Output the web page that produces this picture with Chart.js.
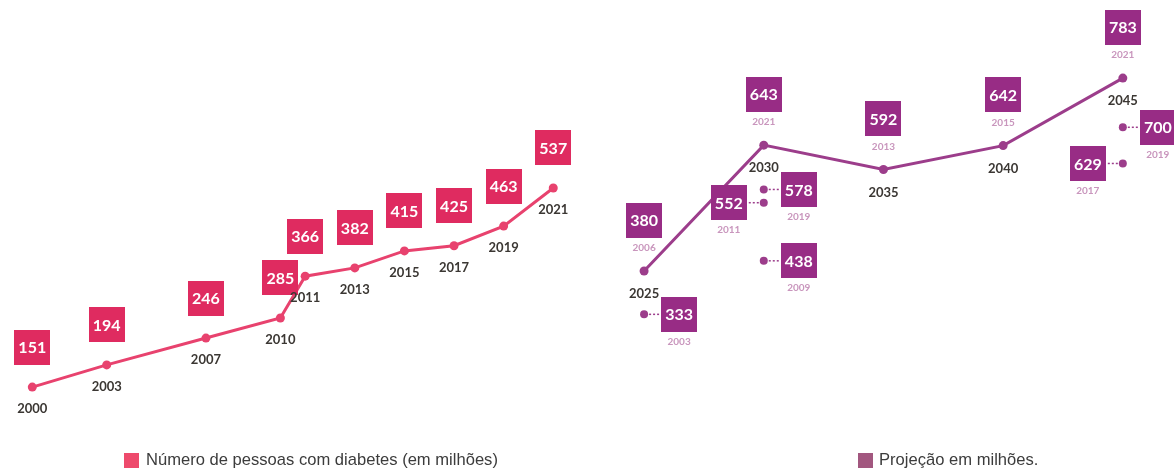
<!DOCTYPE html>
<html>
<head>
<meta charset="utf-8">
<script src="https://cdn.jsdelivr.net/npm/chart.js@4.4.1/dist/chart.umd.min.js"></script>
<style>
  body { margin: 0; background: #fff; }
  #wrap { position: relative; width: 1174px; height: 472px; overflow: hidden; }
  #chart { position: absolute; left: 0; top: 0; }
  .key { position: absolute; top: 453px; width: 15px; height: 15px; }
  .keyText {
    position: absolute; top: 450px; white-space: nowrap;
    font-family: "Liberation Sans", Arial, sans-serif; font-size: 17px; color: #3c3c3c;
    transform: scaleX(0.975); transform-origin: left top;
  }
</style>
</head>
<body>
<div id="wrap">
  <canvas id="chart" width="1174" height="472"></canvas>
  <div class="key" style="left:124px;background:#ee4a6c"></div>
  <div class="keyText" style="left:146px">Número de pessoas com diabetes (em milhões)</div>
  <div class="key" style="left:858px;background:#a2577f"></div>
  <div class="keyText" style="left:879px">Projeção em milhões.</div>
</div>
<script>
// people with diabetes, millions
const years = [2000, 2003, 2007, 2010, 2011, 2013, 2015, 2017, 2019, 2021];
const diabetes = [151, 194, 246, 285, 366, 382, 415, 425, 463, 537];

// projections (latest edition for each target year)
const projYears = [2025, 2030, 2035, 2040, 2045];
const projValues = [380, 643, 592, 642, 783];
const projEditions = [2006, 2021, 2013, 2015, 2021];

// projections from other editions
const pastYears = [2025, 2030, 2030, 2030, 2045, 2045];
const pastValues = [333, 578, 552, 438, 700, 629];
const pastEditions = [2003, 2019, 2011, 2009, 2019, 2017];

const PINK = '#e8426e';
const PINK_BOX = '#df2b60';
const PURPLE = '#9c3d8b';
const PURPLE_BOX = '#982c85';
const YEAR_COLOR = '#3b3733';
const EDITION_COLOR = '#c996bd';

// which side of the dot each older edition box sits on
const pastSide = ['right', 'right', 'left', 'right', 'right', 'left'];

const BOX_W = 36;
const BOX_H = 35;

function box(ctx, cx, cy, fill, text) {
  ctx.fillStyle = fill;
  ctx.fillRect(Math.round(cx - BOX_W / 2), Math.round(cy - BOX_H / 2), BOX_W, BOX_H);
  ctx.fillStyle = '#ffffff';
  ctx.font = 'bold 16px Lato, "Open Sans", sans-serif';
  ctx.textAlign = 'center';
  ctx.textBaseline = 'middle';
  ctx.fillText(text, cx, cy + 1);
}

function label(ctx, x, y, text, color, font) {
  ctx.fillStyle = color;
  ctx.font = font;
  ctx.textAlign = 'center';
  ctx.textBaseline = 'middle';
  ctx.fillText(text, x, y);
}

const YEAR_FONT = 'bold 13px Lato, "Open Sans", sans-serif';
const EDITION_FONT = 'bold 10px Lato, "Open Sans", sans-serif';

const boxLabels = {
  id: 'boxLabels',
  afterDatasetsDraw(chart) {
    const ctx = chart.ctx;
    ctx.save();

    chart.getDatasetMeta(0).data.forEach((pt, i) => {
      box(ctx, pt.x, pt.y - 40, PINK_BOX, String(diabetes[i]));
      label(ctx, pt.x, pt.y + 22, String(years[i]), YEAR_COLOR, YEAR_FONT);
    });

    chart.getDatasetMeta(1).data.forEach((pt, i) => {
      box(ctx, pt.x, pt.y - 51, PURPLE_BOX, String(projValues[i]));
      label(ctx, pt.x, pt.y - 23, String(projEditions[i]), EDITION_COLOR, EDITION_FONT);
      label(ctx, pt.x, pt.y + 23, String(projYears[i]), YEAR_COLOR, YEAR_FONT);
    });

    chart.getDatasetMeta(2).data.forEach((pt, i) => {
      const dir = pastSide[i] === 'right' ? 1 : -1;
      const bx = pt.x + dir * (17 + BOX_W / 2);
      ctx.strokeStyle = PURPLE;
      ctx.lineWidth = 1.5;
      ctx.setLineDash([2, 2]);
      ctx.beginPath();
      ctx.moveTo(pt.x + dir * 5, pt.y);
      ctx.lineTo(pt.x + dir * 17, pt.y);
      ctx.stroke();
      ctx.setLineDash([]);
      box(ctx, bx, pt.y, PURPLE_BOX, String(pastValues[i]));
      label(ctx, bx, pt.y + 27, String(pastEditions[i]), EDITION_COLOR, EDITION_FONT);
    });

    ctx.restore();
  }
};

new Chart(document.getElementById('chart'), {
  type: 'line',
  data: {
    datasets: [
      {
        data: years.map((y, i) => ({ x: y, y: diabetes[i] })),
        xAxisID: 'xL', yAxisID: 'yL',
        borderColor: PINK, backgroundColor: PINK,
        borderWidth: 3, pointRadius: 4.5, pointBorderWidth: 0,
        tension: 0, clip: false
      },
      {
        data: projYears.map((y, i) => ({ x: y, y: projValues[i] })),
        xAxisID: 'xR', yAxisID: 'yR',
        borderColor: PURPLE, backgroundColor: PURPLE,
        borderWidth: 3, pointRadius: 4.5, pointBorderWidth: 0,
        tension: 0, clip: false
      },
      {
        data: pastYears.map((y, i) => ({ x: y, y: pastValues[i] })),
        xAxisID: 'xR', yAxisID: 'yP',
        showLine: false,
        borderColor: PURPLE, backgroundColor: PURPLE,
        pointRadius: 4, pointBorderWidth: 0, clip: false
      }
    ]
  },
  options: {
    responsive: false,
    animation: false,
    events: [],
    layout: { padding: 0 },
    scales: {
      xL: { type: 'linear', display: false, min: 1998.88, max: 2045.84 },
      xR: { type: 'linear', display: false, min: 1998.28, max: 2046.95 },
      yL: { type: 'linear', display: false, min: -4.9, max: 892.6 },
      yR: { type: 'linear', display: false, min: -30.4, max: 936.8 },
      yP: { type: 'linear', display: false, min: 32.5, max: 940.9 }
    },
    plugins: {
      legend: { display: false },
      tooltip: { enabled: false }
    }
  },
  plugins: [boxLabels]
});
</script>
</body>
</html>
